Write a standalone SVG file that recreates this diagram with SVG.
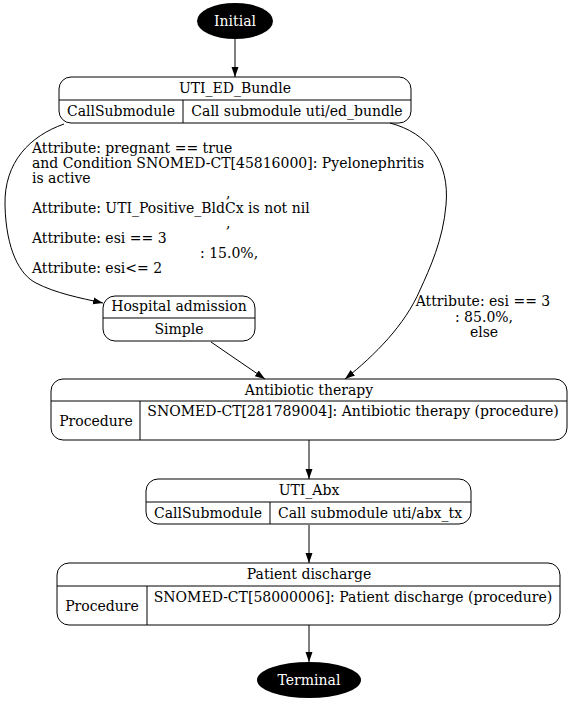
<svg xmlns="http://www.w3.org/2000/svg" width="571" height="703" viewBox="0 0 571 703">
<defs>
<style>
text{font-family:"DejaVu Serif",serif;font-size:14px;fill:#000}
.c{text-anchor:middle}
.w{fill:#fff}
.n{fill:none;stroke:#000;stroke-width:1}
.e{fill:none;stroke:#000;stroke-width:1}
</style>
<marker id="a" viewBox="0 0 10 10" refX="10" refY="5" markerWidth="10" markerHeight="10" markerUnits="userSpaceOnUse" orient="auto"><path d="M0,1.5 L10,5 L0,8.5 Z" fill="#000"/></marker>
</defs>
<rect width="571" height="703" fill="#fff"/>
<g id="connectors">
<path class="e" d="M235,39 L235,77" marker-end="url(#a)"/>
<path class="e" d="M64,124 C30,136 4,162 5,205 C6,250 20,275 36,283 C55,293 80,298 103,303" marker-end="url(#a)"/>
<path class="e" d="M390,123 C428,133 450,162 446,205 C443,240 430,268 420,290 C405,325 375,355 345,379" marker-end="url(#a)"/>
<path class="e" d="M211,342 L265,379" marker-end="url(#a)"/>
<path class="e" d="M309,440 L309,479" marker-end="url(#a)"/>
<path class="e" d="M309,525 L309,563" marker-end="url(#a)"/>
<path class="e" d="M309,625 L309,662" marker-end="url(#a)"/>
<text x="32" y="153">Attribute: pregnant == true</text>
<text x="32" y="168">and Condition SNOMED-CT[45816000]: Pyelonephritis</text>
<text x="32" y="183">is active</text>
<text x="226" y="198">,</text>
<text x="32" y="213">Attribute: UTI_Positive_BldCx is not nil</text>
<text x="226" y="228">,</text>
<text x="32" y="243">Attribute: esi == 3</text>
<text x="200" y="258">: 15.0%,</text>
<text x="32" y="273">Attribute: esi&lt;= 2</text>
<text class="c" x="483" y="306">Attribute: esi == 3</text>
<text class="c" x="484" y="322">: 85.0%,</text>
<text class="c" x="484" y="337">else</text>
</g>
<g id="initial">
<ellipse cx="235" cy="21" rx="38" ry="18" fill="#000"/>
<text class="c w" x="235" y="26">Initial</text>
</g>
<g id="uti_ed_bundle">
<rect class="n" x="59" y="77" width="352" height="46" rx="12"/>
<path class="n" d="M59,100 H411 M183,100 V123"/>
<text class="c" x="235" y="93">UTI_ED_Bundle</text>
<text class="c" x="121" y="116">CallSubmodule</text>
<text class="c" x="297" y="116">Call submodule uti/ed_bundle</text>
</g>
<g id="hospital_admission">
<rect class="n" x="103" y="296" width="152" height="45" rx="12"/>
<path class="n" d="M103,318 H255"/>
<text class="c" x="179" y="311">Hospital admission</text>
<text class="c" x="179" y="334">Simple</text>
</g>
<g id="antibiotic_therapy">
<rect class="n" x="51" y="379" width="516" height="61" rx="12"/>
<path class="n" d="M51,401 H567 M140,401 V440"/>
<text class="c" x="309" y="395">Antibiotic therapy</text>
<text class="c" x="96" y="426">Procedure</text>
<text class="c" x="353" y="416">SNOMED-CT[281789004]: Antibiotic therapy (procedure)</text>
</g>
<g id="uti_abx">
<rect class="n" x="146" y="479" width="325" height="45" rx="12"/>
<path class="n" d="M146,502 H471 M270,502 V524"/>
<text class="c" x="309" y="495">UTI_Abx</text>
<text class="c" x="208" y="518">CallSubmodule</text>
<text class="c" x="370" y="518">Call submodule uti/abx_tx</text>
</g>
<g id="patient_discharge">
<rect class="n" x="57" y="563" width="503" height="62" rx="12"/>
<path class="n" d="M57,586 H560 M147,586 V625"/>
<text class="c" x="309" y="579">Patient discharge</text>
<text class="c" x="102" y="611">Procedure</text>
<text class="c" x="353" y="602">SNOMED-CT[58000006]: Patient discharge (procedure)</text>
</g>
<g id="terminal">
<ellipse cx="309" cy="680" rx="52" ry="18" fill="#000"/>
<text class="c w" x="309" y="685">Terminal</text>
</g>
</svg>
